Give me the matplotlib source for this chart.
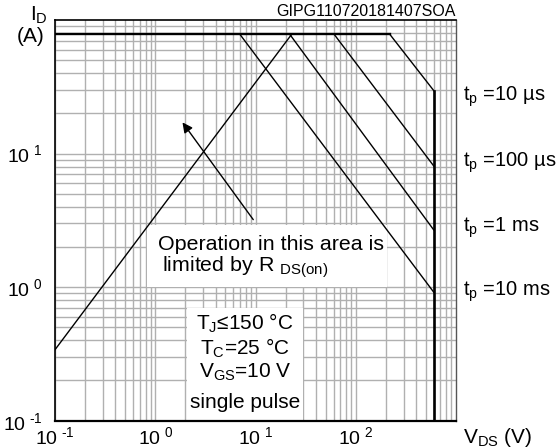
import matplotlib
matplotlib.use("Agg")
import matplotlib.pyplot as plt
from matplotlib.patches import Rectangle

plt.rcParams['font.family'] = ['Liberation Sans', 'DejaVu Sans']
plt.rcParams['mathtext.fontset'] = 'custom'
plt.rcParams['mathtext.rm'] = 'Liberation Sans'

# SOA data
i_max = 78.0          # A, package limit
v_max = 600.0         # V, breakdown limit
v_lo = 0.1
i_lo = 0.1
rds_v = [0.1, 22.9]   # R_DS(on) limited line
rds_i = [0.34, 78.0]
pulse_names = ['10 µs', '100 µs', '1 ms', '10 ms']
pulse_v_knee = [219.0, 61.0, 22.0, 7.0]
pulse_i_end = [29.6, 8.07, 2.68, 0.916]

fig = plt.figure(figsize=(5.6, 4.48), dpi=100)
ax = fig.add_axes([55 / 560, 1 - 420.7 / 448, 401 / 560, 400.7 / 448])
ax.set_xscale('log')
ax.set_yscale('log')
ax.set_xlim(0.1, 1000)
ax.set_ylim(0.1, 100)

ax.set_axisbelow(True)
ax.grid(True, which='both', color='#b0b0b0', lw=1.0)
ax.tick_params(which='both', length=0, labelsize=14)
ax.tick_params(axis='y', pad=9)
ax.tick_params(axis='x', pad=4)


def dec_label(e):
    return r'$\mathregular{10^{\ \text{' + str(e) + r'}}}$'


ax.set_xticks([0.1, 1, 10, 100])
ax.set_xticklabels([dec_label(e) for e in [-1, 0, 1, 2]])
ax.set_yticks([0.1, 1, 10])
ax.set_yticklabels([dec_label(e) for e in [-1, 0, 1]])

for s in ['left', 'top']:
    ax.spines[s].set_linewidth(1.2)
ax.spines['bottom'].set_linewidth(1.6)
ax.spines['right'].set_linewidth(1.0)
ax.spines['right'].set_color('#555555')

# white boxes that hide the grid
ax.add_patch(Rectangle((0.2294, 0.3337), 0.5985, 0.1547, transform=ax.transAxes,
                       facecolor='white', edgecolor='none', zorder=1.5))
ax.add_patch(Rectangle((0.329, 0.0), 0.289, 0.281, transform=ax.transAxes,
                       facecolor='white', edgecolor='none', zorder=1.5))

# envelope: current limit and voltage limit
ax.plot([v_lo, max(pulse_v_knee)], [i_max, i_max], color='black', lw=1.7, zorder=3)
ax.plot([v_max, v_max], [max(pulse_i_end), i_lo], color='black', lw=1.9, zorder=3)
for vk, ie in zip(pulse_v_knee, pulse_i_end):
    ax.plot([vk, v_max], [i_max, ie], color='black', lw=1.0, zorder=3)
ax.plot(rds_v, rds_i, color='black', lw=1.0, zorder=3)

ax.annotate('', xy=(1.80, 17.8), xytext=(9.86, 3.08),
            arrowprops=dict(arrowstyle='-|>', color='black', lw=1.0, mutation_scale=15), zorder=3)

ax.text(0.257, 0.4385, 'Operation in this area is', transform=ax.transAxes,
        ha='left', va='center', fontsize=15.4, zorder=4)
ax.text(0.267, 0.384, r'limited by R $\mathregular{_{DS(on)}}$', transform=ax.transAxes,
        ha='left', va='center', fontsize=15.4, zorder=4)

cond = [r'$\mathregular{T_{J}}$≤150 °C', r'$\mathregular{T_{C}}$=25 °C',
        r'$\mathregular{V_{GS}}$=10 V', 'single pulse']
cond_y = [0.2438, 0.1814, 0.1215, 0.0442]
for t, yy in zip(cond, cond_y):
    ax.text(0.474, yy, t, transform=ax.transAxes, ha='center', va='center', fontsize=15, zorder=4)

lab_y = [0.8086, 0.6431, 0.4809, 0.3212]
for name, yy in zip(pulse_names, lab_y):
    ax.text(1.0175, yy, r'$\mathregular{t_{p}}$ =' + name, transform=ax.transAxes,
            ha='left', va='center', fontsize=14.5, clip_on=False)

ax.text(1.0, 1.003, 'GIPG110720181407SOA', transform=ax.transAxes,
        ha='right', va='bottom', fontsize=11.5)

fig.text(30 / 560, 1 - 15 / 448, r'$\mathregular{I_{D}}$', ha='left', va='center', fontsize=15)
fig.text(31 / 560, 1 - 37 / 448, '(A)', ha='center', va='center', fontsize=15)
fig.text(463 / 560, 1 - 437 / 448, r'$\mathregular{V_{DS}}$ (V)', ha='left', va='center', fontsize=15)

fig.savefig('out.png', dpi=100)
